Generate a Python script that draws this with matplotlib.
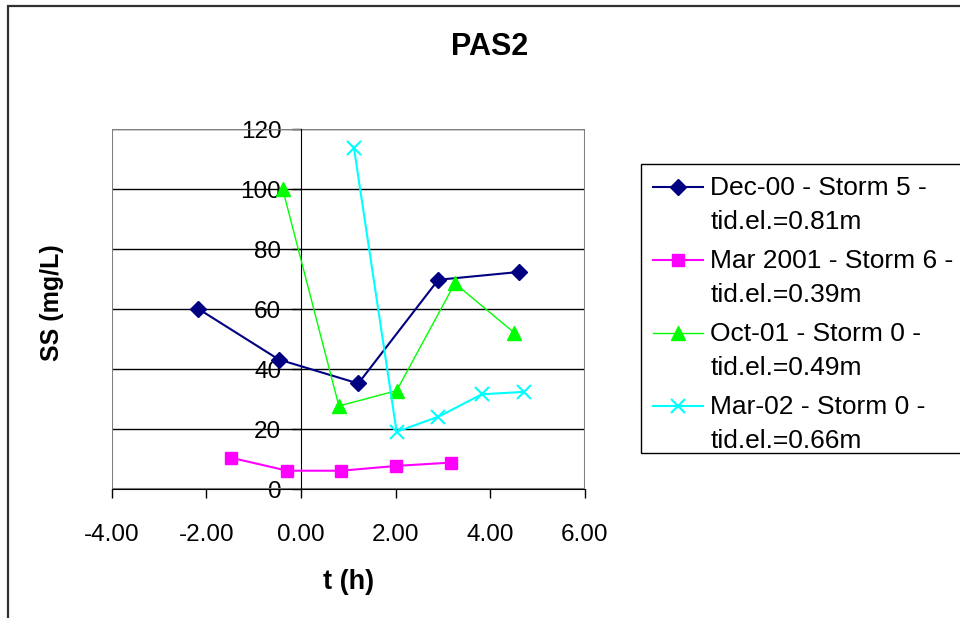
import numpy as np
import matplotlib
matplotlib.use("Agg")
import matplotlib.pyplot as plt
from matplotlib.patches import Rectangle
from matplotlib.lines import Line2D
from matplotlib.legend_handler import HandlerLine2D
from matplotlib.ticker import FormatStrFormatter

plt.rcParams['font.family'] = ['Liberation Sans', 'DejaVu Sans']
plt.rcParams['axes.unicode_minus'] = False

# series: time (h) and SS (mg/L)
dec00_t = [-2.17, -0.47, 1.21, 2.90, 4.60]
dec00_ss = [60.1, 43.2, 35.2, 69.8, 72.4]

mar01_t = [-1.47, -0.29, 0.85, 2.01, 3.16]
mar01_ss = [10.4, 6.1, 6.1, 7.7, 8.8]

oct01_t = [-0.39, 0.80, 2.02, 3.25, 4.50]
oct01_ss = [100.2, 27.7, 32.8, 68.6, 52.2]

mar02_t = [1.12, 2.02, 2.90, 3.82, 4.71]
mar02_ss = [113.6, 19.1, 24.1, 31.6, 32.4]

labels = ["Dec-00 - Storm 5 -\ntid.el.=0.81m",
          "Mar 2001 - Storm 6 -\ntid.el.=0.39m",
          "Oct-01 - Storm 0 -\ntid.el.=0.49m",
          "Mar-02 - Storm 0 -\ntid.el.=0.66m"]

x_ticks = [-4, -2, 0, 2, 4, 6]
y_ticks = [0, 20, 40, 60, 80, 100, 120]


class FirstLineHandler(HandlerLine2D):
    """Put the legend key next to the first line of a two-line label."""
    shift = 13  # points

    def create_artists(self, legend, orig_handle, xdescent, ydescent,
                       width, height, fontsize, trans):
        return super().create_artists(legend, orig_handle, xdescent,
                                      ydescent - 2 * self.shift, width, height,
                                      fontsize, trans)


W, H = 960, 618
fig = plt.figure(figsize=(W / 100, H / 100), dpi=100, facecolor='w')

# outer chart border (runs off the right and bottom edges)
fig.patches.append(Rectangle((8 / W, -0.05), 1.1, 1 - 5.7 / H + 0.05,
                             transform=fig.transFigure, fill=False,
                             ec='#303030', lw=1.6))

ax = fig.add_axes([111.7 / W, 1 - 489 / H, (585 - 111.7) / W, (489 - 129.3) / H])

ax.plot(dec00_t, dec00_ss, color='#000080', lw=1.5, marker='D', ms=8,
        label=labels[0], zorder=5)
ax.plot(mar01_t, mar01_ss, color='#FF00FF', lw=1.5, marker='s', ms=8.5,
        label=labels[1], zorder=5)
ax.plot(oct01_t, oct01_ss, color='#00FF00', lw=1, marker='^', ms=10,
        label=labels[2], zorder=5)
ax.plot(mar02_t, mar02_ss, color='#00FFFF', lw=1.5, marker='x', ms=10,
        mew=1.5, label=labels[3], zorder=5)

ax.set_xlim(-4, 6)
ax.set_ylim(0, 120)
ax.set_xticks(x_ticks)
ax.set_yticks(y_ticks)
ax.xaxis.set_major_formatter(FormatStrFormatter('%.2f'))

for side in ('top', 'right'):
    ax.spines[side].set_visible(False)
ax.spines['left'].set_position(('data', 0))
ax.spines['left'].set_color('black')
ax.spines['bottom'].set_color('black')
ax.add_patch(Rectangle((0, 0), 1, 1, transform=ax.transAxes, fill=False,
                       ec='#808080', lw=1.5, zorder=1))

ax.grid(axis='y', color='black', lw=1)
ax.set_axisbelow(True)
ax.tick_params(axis='y', direction='out', length=6.2, width=1, pad=8, labelsize=17.5)
ax.tick_params(axis='x', direction='out', length=6.2, width=1, pad=19, labelsize=17.5)

fig.text(490 / W, 1 - 47 / H, 'PAS2', ha='center', va='center',
         fontsize=22, fontweight='bold')
fig.text(51.7 / W, 1 - 303 / H, 'SS (mg/L)', ha='center', va='center',
         rotation=90, fontsize=18, fontweight='bold')
fig.text(348.7 / W, 1 - 581.7 / H, 't (h)', ha='center', va='center',
         fontsize=19.5, fontweight='bold')

# legend box drawn by hand so it matches the original frame
fig.patches.append(Rectangle((641 / W, 1 - 453 / H), (970 - 641) / W, (453 - 164.3) / H,
                             transform=fig.transFigure, fill=False,
                             ec='black', lw=1))
leg = ax.legend(loc='upper left', bbox_to_anchor=(641 / W, 1 - 164.3 / H, (970 - 641) / W, 0),
                bbox_transform=fig.transFigure, mode='expand', borderaxespad=0,
                fontsize=19, frameon=False,
                handlelength=1.9, handletextpad=0.27, labelspacing=0.57,
                borderpad=0.45, handler_map={Line2D: FirstLineHandler()})
for t in leg.get_texts():
    t.set_linespacing(1.52)

fig.savefig('out.png', dpi=100)
